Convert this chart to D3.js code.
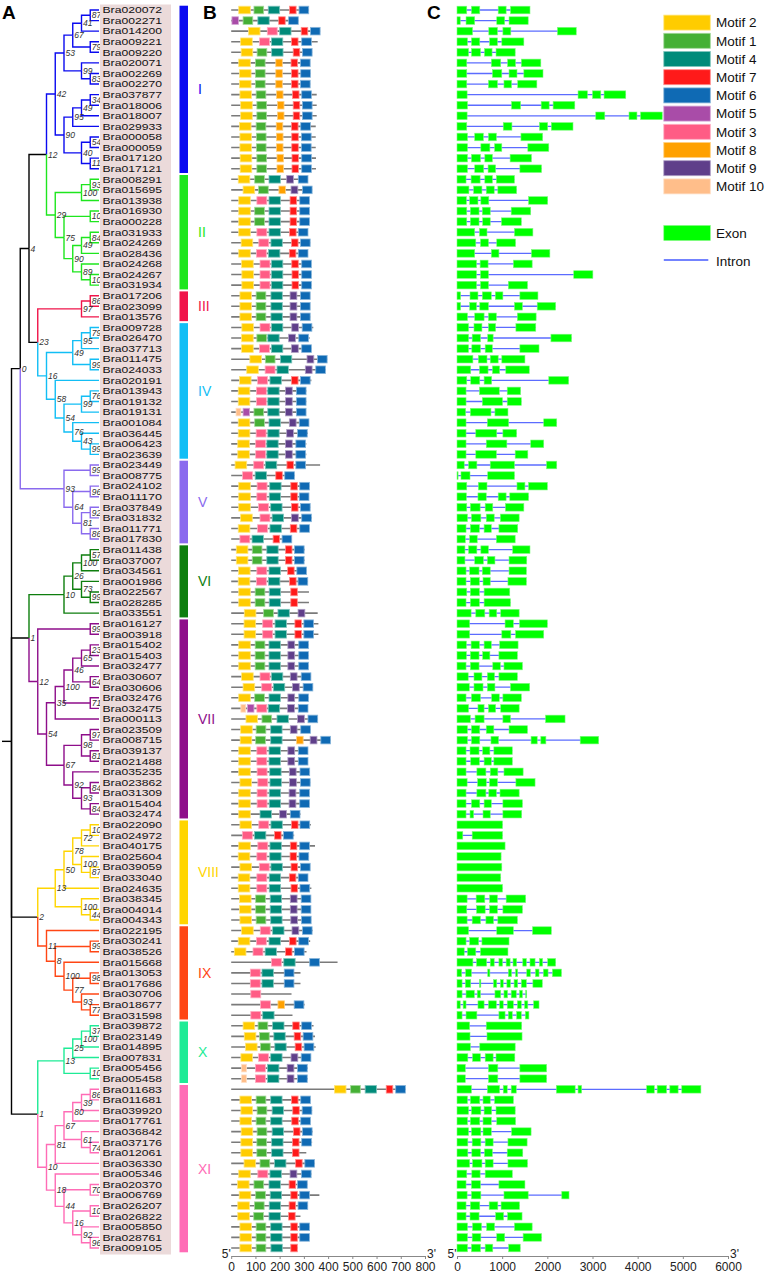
<!DOCTYPE html>
<html>
<head>
<meta charset="utf-8">
<script src="https://cdn.jsdelivr.net/npm/d3@7"></script>
<style>
  body { margin: 0; background: #fff; }
  text { font-family: "Liberation Sans", Arial, Helvetica, sans-serif; }
</style>
</head>
<body>
<div id="chart"></div>
<script>
// ---------------- data ----------------
const genes = [
  "Bra020072","Bra002271","Bra014200","Bra009221","Bra009220","Bra020071","Bra002269","Bra002270",
  "Bra037877","Bra018006","Bra018007","Bra029933","Bra000058","Bra000059","Bra017120","Bra017121",
  "Bra008291","Bra015695","Bra013938","Bra016930","Bra000228","Bra031933","Bra024269","Bra028436",
  "Bra024268","Bra024267","Bra031934",
  "Bra017206","Bra023099","Bra013576",
  "Bra009728","Bra026470","Bra037713","Bra011475","Bra024033","Bra020191","Bra013943","Bra019132",
  "Bra019131","Bra001084","Bra036445","Bra006423","Bra023639",
  "Bra023449","Bra008775","Bra024102","Bra011170","Bra037849","Bra031832","Bra011771","Bra017830",
  "Bra011438","Bra037007","Bra034561","Bra001986","Bra022567","Bra028285","Bra033551",
  "Bra016127","Bra003918","Bra015402","Bra015403","Bra032477","Bra030607","Bra030606","Bra032476",
  "Bra032475","Bra000113","Bra023509","Bra008715","Bra039137","Bra021488","Bra035235","Bra023862",
  "Bra031309","Bra015404","Bra032474",
  "Bra022090","Bra024972","Bra040175","Bra025604","Bra039059","Bra033040","Bra024635","Bra038345",
  "Bra004014","Bra004343",
  "Bra022195","Bra030241","Bra038526","Bra015668","Bra013053","Bra017686","Bra030706","Bra018677",
  "Bra031598",
  "Bra039872","Bra023149","Bra014895","Bra007831","Bra005456","Bra005458",
  "Bra011683","Bra011681","Bra039920","Bra017761","Bra036842","Bra037176","Bra012061","Bra036330",
  "Bra005346","Bra020370","Bra006769","Bra026207","Bra026822","Bra005850","Bra028761","Bra009105"
];

const groupNames = ["I","II","III","IV","V","VI","VII","VIII","IX","X","XI"];
const groupSizes = [16, 11, 3, 13, 8, 7, 19, 10, 9, 6, 16];
const groupColors = ["#0a0af0","#1ee61e","#f0144a","#12bef5","#8a6aee","#0e7e0e",
                     "#8e0e8a","#ffd500","#ff4614","#1eeb96","#ff6cb6"];

// Neighbour-joining tree with bootstrap support as node labels
const treeNewick =
  "(((((((((Bra020072,Bra002271)87,Bra014200)41,(Bra009221,Bra009220)79)67," +
  "(Bra020071,(Bra002269,Bra002270)83)99)53," +
  "((((Bra037877,Bra018006)34,Bra018007)49,Bra029933)95," +
  "((Bra000058,Bra000059)54,(Bra017120,Bra017121)11)40)90)42," +
  "(((Bra008291,Bra015695)93,Bra013938)100,((Bra016930,Bra000228)100," +
  "(((Bra031933,Bra024269)84,Bra028436)49,(Bra024268,(Bra024267,Bra031934)100)89)90)75)29)12," +
  "(((Bra017206,Bra023099)86,Bra013576)97," +
  "((((Bra009728,Bra026470)79,Bra037713)95,(Bra011475,Bra024033)99)49," +
  "(Bra020191,(((Bra013943,Bra019132)76,Bra019131)99," +
  "(Bra001084,(Bra036445,(Bra006423,Bra023639)99)43)76)54)58)16)23)4," +
  "((Bra023449,Bra008775)99,((Bra024102,Bra011170)96," +
  "((Bra037849,Bra031832)92,(Bra011771,Bra017830)86)81)64)93)0," +
  "(((((Bra011438,Bra037007)57,Bra034561)100,(Bra001986,(Bra022567,Bra028285)99)73)26,Bra033551)10," +
  "((Bra016127,Bra003918)99,((((((Bra015402,Bra015403)23,Bra032477)65,(Bra030607,Bra030606)64)46," +
  "(Bra032476,Bra032475)71)100,Bra000113)35,(((Bra023509,Bra008715)97,(Bra039137,Bra021488)81)98," +
  "(Bra035235,((Bra023862,Bra031309)84,(Bra015404,Bra032474)84)93)92)67)54)12)1," +
  "((((((Bra022090,Bra024972)100,Bra040175)72,(Bra025604,(Bra039059,Bra033040)87)100)78,Bra024635)50," +
  "(Bra038345,(Bra004014,Bra004343)44)100)13," +
  "(Bra022195,((Bra030241,Bra038526)99,(Bra015668,((Bra013053,Bra017686)98," +
  "(Bra030706,(Bra018677,Bra031598)77)93)77)100)8)11)2," +
  "(((((Bra039872,Bra023149)37,Bra014895)100,Bra007831)25,(Bra005456,Bra005458)100)13," +
  "((((((Bra011683,Bra011681)86,Bra039920)39,Bra017761)80,(Bra036842,(Bra037176,Bra012061)74)61)67,Bra036330)81," +
  "(Bra005346,((Bra020370,Bra006769)70,((Bra026207,Bra026822)100," +
  "(Bra005850,(Bra028761,Bra009105)96)92)16)44)18)10)1)0);";

// motifs, in legend order
const motifIds = [2, 1, 4, 7, 6, 5, 3, 8, 9, 10];
const motifColors = ["#ffcc00","#45b035","#008b7a","#ff1a1a","#0f6ab4",
                     "#a94ca8","#ff5c85","#ffa100","#5f3f8a","#ffbe8a"];
const motifWidths = [48, 40, 47, 27, 40, 27, 41, 27, 28, 20]; // aa, same order

const proteinLengths = [
  321,277,367,357,334,324,327,326,353,353,353,349,349,349,350,350,
  317,334,323,323,323,317,326,317,330,331,331,
  324,324,326,
  339,324,331,396,390,331,310,310,309,320,317,310,310,
  367,263,323,321,326,333,323,249,
  303,303,311,317,321,321,357,
  360,360,320,320,320,329,337,320,317,357,327,410,317,317,324,326,323,323,286,
  329,260,346,320,323,317,331,329,329,330,
  336,326,311,439,286,286,249,303,253,
  340,346,349,329,316,316,
  720,327,334,327,336,334,310,346,331,314,364,316,286,323,323,274
];

// [motif, start aa]
const motifSites = [
  [[2,31],[1,94],[4,153],[7,241],[6,280]],
  [[5,3],[1,49],[4,110],[7,196],[6,237]],
  [[2,71],[3,149],[4,200],[7,289],[6,327]],
  [[2,39],[3,117],[4,166],[7,249],[6,291]],
  [[2,41],[1,107],[4,167],[7,256],[6,294]],
  [[2,31],[1,100],[8,184],[7,247],[6,286]],
  [[2,34],[1,100],[8,184],[7,249],[6,287]],
  [[2,34],[1,100],[8,184],[7,249],[6,286]],
  [[2,36],[1,103],[8,187],[7,253],[6,291]],
  [[2,39],[1,106],[8,191],[7,256],[6,294]],
  [[2,39],[1,106],[8,191],[7,256],[6,294]],
  [[2,34],[1,103],[8,186],[7,249],[6,287]],
  [[2,36],[1,104],[8,187],[7,250],[6,290]],
  [[2,36],[1,104],[8,187],[7,250],[6,290]],
  [[2,37],[1,106],[8,189],[7,251],[6,291]],
  [[2,37],[1,106],[8,189],[7,251],[6,291]],
  [[2,29],[1,97],[4,156],[9,229],[6,277]],
  [[2,49],[1,113],[8,197],[9,247],[6,294]],
  [[2,31],[3,106],[4,156],[7,243],[6,283]],
  [[2,31],[1,97],[4,156],[7,243],[6,283]],
  [[2,31],[1,97],[4,156],[7,243],[6,283]],
  [[2,31],[3,106],[4,156],[7,241],[6,277]],
  [[2,41],[3,114],[4,164],[7,249],[6,286]],
  [[2,31],[3,104],[4,154],[7,240],[6,277]],
  [[2,43],[3,119],[4,166],[7,250],[6,291]],
  [[2,44],[3,119],[4,166],[7,251],[6,291]],
  [[2,44],[3,119],[4,166],[7,251],[6,291]],
  [[2,36],[1,103],[4,164],[9,243],[6,286]],
  [[2,36],[1,103],[4,164],[9,243],[6,286]],
  [[2,36],[1,103],[4,164],[9,243],[6,286]],
  [[2,44],[3,119],[4,166],[9,250],[6,293]],
  [[2,43],[1,106],[4,151],[9,237],[6,279]],
  [[2,43],[3,117],[4,166],[9,249],[6,291]],
  [[2,77],[1,141],[4,203],[9,313],[6,356]],
  [[2,64],[3,140],[4,189],[9,306],[6,349]],
  [[2,34],[3,109],[4,160],[7,249],[6,286]],
  [[2,29],[3,104],[4,151],[9,224],[6,269]],
  [[2,29],[3,104],[4,151],[9,224],[6,269]],
  [[10,20],[5,49],[1,94],[4,151],[9,224],[6,269]],
  [[2,29],[1,97],[4,156],[9,240],[6,281]],
  [[2,29],[3,103],[4,151],[9,229],[6,274]],
  [[2,27],[3,101],[4,147],[9,224],[6,267]],
  [[2,27],[3,101],[4,147],[9,224],[6,267]],
  [[2,16],[3,93],[4,141],[7,230],[6,267]],
  [[3,47],[4,99],[7,184],[6,221]],
  [[2,31],[3,107],[4,159],[7,246],[6,283]],
  [[2,31],[3,106],[4,157],[7,246],[6,281]],
  [[2,31],[3,113],[4,163],[7,249],[6,286]],
  [[2,39],[3,119],[4,169],[9,249],[6,291]],
  [[2,29],[3,109],[4,160],[7,244],[6,283]],
  [[3,36],[4,86],[7,173],[6,210]],
  [[2,21],[1,87],[4,147],[7,224],[6,261]],
  [[2,21],[1,87],[4,147],[7,224],[6,261]],
  [[2,30],[3,106],[4,156],[7,233],[6,271]],
  [[2,29],[3,104],[4,154],[7,241],[6,276]],
  [[2,31],[1,99],[4,157],[7,246]],
  [[2,31],[1,99],[4,157],[7,246]],
  [[2,54],[1,134],[4,193],[9,276]],
  [[2,53],[3,130],[4,181],[7,263],[6,300]],
  [[2,53],[3,130],[4,181],[7,263],[6,300]],
  [[2,31],[1,99],[4,156],[9,234],[6,279]],
  [[2,31],[1,99],[4,156],[9,234],[6,279]],
  [[2,31],[1,99],[4,156],[9,234],[6,279]],
  [[2,43],[3,119],[4,166],[9,244],[6,289]],
  [[2,49],[3,126],[4,174],[9,253],[6,297]],
  [[2,31],[1,97],[4,156],[9,234],[6,279]],
  [[10,40],[5,67],[3,106],[4,153],[9,233],[6,277]],
  [[2,61],[1,127],[4,189],[9,274],[6,317]],
  [[2,39],[1,103],[4,163],[9,244],[6,287]],
  [[2,37],[1,101],[4,163],[8,270],[9,326],[6,370]],
  [[2,31],[3,106],[4,156],[9,234],[6,277]],
  [[2,31],[3,106],[4,156],[9,234],[6,277]],
  [[2,31],[3,107],[4,159],[9,240],[6,284]],
  [[2,36],[3,110],[4,160],[9,241],[6,286]],
  [[2,31],[3,107],[4,157],[9,239],[6,283]],
  [[2,31],[3,107],[4,157],[9,239],[6,283]],
  [[2,31],[4,119],[9,200],[6,244]],
  [[2,36],[3,114],[4,164],[7,249],[6,284]],
  [[3,46],[4,96],[7,179],[6,216]],
  [[2,31],[3,110],[4,160],[7,244],[6,283]],
  [[2,29],[3,106],[4,159],[7,243],[6,280]],
  [[2,36],[3,116],[4,164],[7,247],[6,286]],
  [[2,29],[3,106],[4,157],[7,240],[6,277]],
  [[2,29],[3,106],[4,157],[7,247],[6,284]],
  [[2,34],[1,101],[4,161],[9,244],[6,289]],
  [[2,34],[1,101],[4,161],[9,244],[6,289]],
  [[2,36],[1,103],[4,163],[9,246],[6,290]],
  [[2,43],[3,120],[4,171],[9,251],[6,294]],
  [[2,29],[3,104],[4,156],[7,241],[6,279]],
  [[2,13],[3,90],[4,140],[7,224],[6,261]],
  [[3,166],[4,217],[6,324]],
  [[3,79],[4,127],[6,219]],
  [[3,79],[4,127],[6,219]],
  [[3,81]],
  [[3,121],[8,193],[6,260]],
  [[3,81],[4,130]],
  [[2,49],[1,111],[4,171],[7,254],[6,291]],
  [[2,54],[1,117],[4,176],[7,260],[6,297]],
  [[2,59],[1,121],[4,180],[7,264],[6,301]],
  [[2,40],[3,113],[4,163],[9,247],[6,289]],
  [[10,43],[3,100],[4,150],[9,231],[6,274]],
  [[10,43],[3,100],[4,150],[9,231],[6,274]],
  [[2,426],[1,493],[4,553],[7,640],[6,679]],
  [[2,36],[1,103],[4,163],[7,249],[6,287]],
  [[2,40],[1,107],[4,169],[7,254],[6,293]],
  [[2,36],[1,103],[4,163],[7,250],[6,287]],
  [[2,41],[1,107],[4,169],[7,257],[6,294]],
  [[2,40],[1,106],[4,167],[7,253],[6,291]],
  [[2,40],[1,106],[4,167],[7,253]],
  [[2,53],[1,119],[4,179],[7,266],[6,304]],
  [[2,31],[3,110],[4,160],[9,243],[6,290]],
  [[2,26],[1,94],[4,156],[7,239],[6,274]],
  [[2,33],[1,101],[4,161],[7,246],[6,283]],
  [[2,27],[1,96],[4,157],[7,239],[6,276]],
  [[2,27],[1,93],[4,156],[7,237]],
  [[2,36],[1,103],[4,163],[7,246],[6,283]],
  [[2,36],[1,103],[4,163],[7,246],[6,283]],
  [[2,36],[1,103],[4,164],[7,246]]
];

// exon [start, end] in bp
const exons = [
  [[0,216],[320,504],[912,1088],[1184,1616]],
  [[0,72],[200,392],[880,1056],[1152,1576]],
  [[0,344],[704,896],[1016,1192],[2224,2640]],
  [[0,232],[320,504],[720,896],[992,1480]],
  [[0,256],[320,520],[608,776],[864,1288]],
  [[0,216],[760,968],[1120,1296],[1424,1856]],
  [[0,216],[784,992],[1152,1328],[1480,1904]],
  [[0,216],[696,896],[1040,1208],[1344,1768]],
  [[0,224],[2680,2888],[3000,3184],[3256,3736]],
  [[0,232],[1208,1408],[1864,2040],[2128,2608]],
  [[0,224],[3072,3272],[3808,3984],[4064,4544]],
  [[0,216],[1024,1216],[1824,2008],[2088,2568]],
  [[0,232],[392,584],[696,872],[1416,1896]],
  [[0,232],[528,728],[832,992],[1568,2032]],
  [[0,232],[320,520],[616,784],[1176,1648]],
  [[0,232],[392,592],[688,856],[1392,1872]],
  [[0,200],[312,512],[616,784],[872,1272]],
  [[0,264],[368,552],[648,824],[904,1320]],
  [[0,208],[280,464],[528,704],[1584,2008]],
  [[0,216],[296,488],[560,736],[1200,1632]],
  [[0,216],[296,488],[568,736],[984,1424]],
  [[0,392],[496,664],[1272,1680]],
  [[0,416],[520,696],[880,1296]],
  [[0,392],[760,928],[1648,2056]],
  [[0,432],[512,688],[1248,1664]],
  [[0,432],[520,696],[2584,3008]],
  [[0,432],[520,696],[1136,1560]],
  [[0,80],[288,464],[560,760],[848,1016],[1392,1792]],
  [[0,80],[280,432],[504,696],[1272,1448],[1776,2184]],
  [[0,232],[392,600],[696,872],[1336,1752]],
  [[0,256],[376,552],[696,856],[1304,1744]],
  [[0,256],[336,520],[680,800],[2080,2536]],
  [[0,256],[328,520],[624,784],[1392,1816]],
  [[0,352],[472,664],[736,912],[992,1504]],
  [[0,304],[496,688],[784,944],[1080,1600]],
  [[0,216],[304,504],[600,768],[2032,2472]],
  [[0,200],[496,936],[1112,1408]],
  [[0,200],[560,1008],[1112,1424]],
  [[0,192],[296,752],[840,1128]],
  [[0,200],[672,1144],[1920,2208]],
  [[0,200],[416,880],[1016,1320]],
  [[0,200],[648,1104],[1632,1920]],
  [[0,200],[416,872],[1288,1568]],
  [[0,160],[256,440],[736,1272],[1984,2208]],
  [[0,24],[88,288],[680,1272]],
  [[0,216],[472,664],[1328,1504],[1584,2000]],
  [[0,208],[464,648],[912,1088],[1168,1584]],
  [[0,216],[296,512],[624,792],[1072,1480]],
  [[0,232],[320,528],[648,824],[960,1376]],
  [[0,200],[296,496],[600,760],[928,1344]],
  [[0,184],[280,448],[872,1288]],
  [[0,176],[256,440],[528,696],[1232,1616]],
  [[0,176],[392,584],[672,840],[1152,1544]],
  [[0,200],[280,488],[560,736],[1152,1536]],
  [[0,200],[296,496],[576,736],[1128,1536]],
  [[0,216],[296,496],[600,1168]],
  [[0,200],[296,496],[600,1184]],
  [[0,312],[416,616],[712,880],[968,1376]],
  [[0,280],[1064,1248],[1384,2000]],
  [[0,280],[992,1192],[1296,1920]],
  [[0,208],[312,496],[600,760],[944,1352]],
  [[0,208],[296,488],[568,728],[928,1336]],
  [[0,200],[296,488],[792,960],[1040,1448]],
  [[0,248],[376,552],[672,832],[928,1336]],
  [[0,272],[376,576],[672,840],[1184,1608]],
  [[0,200],[320,520],[768,936],[1016,1424]],
  [[0,256],[464,600],[696,856],[968,1376]],
  [[0,296],[400,600],[1016,1184],[1960,2392]],
  [[0,232],[320,504],[648,816],[1152,1560]],
  [[0,232],[320,504],[752,920],[1640,1776],[1856,1968],[2728,3136]],
  [[0,200],[288,488],[568,728],[816,1224]],
  [[0,200],[304,496],[600,760],[816,1224]],
  [[0,200],[440,640],[736,904],[1040,1464]],
  [[0,224],[456,648],[720,896],[1304,1728]],
  [[0,200],[440,640],[704,872],[952,1376]],
  [[0,200],[320,504],[600,760],[1016,1448]],
  [[0,200],[288,368],[576,736],[1016,1432]],
  [[0,1008]],
  [[0,128],[336,1008]],
  [[0,1064]],
  [[0,976]],
  [[0,992]],
  [[0,968]],
  [[0,1008]],
  [[0,224],[424,616],[720,896],[1088,1520]],
  [[0,216],[432,624],[720,896],[1016,1448]],
  [[0,224],[336,520],[640,808],[904,1336]],
  [[0,256],[880,1248],[1672,2088]],
  [[0,200],[280,480],[552,1152]],
  [[0,160],[232,416],[520,1128]],
  [[0,352],[432,656],[736,824],[928,1008],[1088,1176],[1240,1320],[1456,1536],[1616,1728],[1824,1896],[2008,2184]],
  [[0,104],[192,320],[680,728],[1136,1208],[1296,1344],[1544,1624],[1736,1816],[1912,2016],[2112,2312]],
  [[0,112],[184,304],[496,528],[808,880],[960,1024],[1104,1184],[1264,1344],[1424,1536],[1680,1888]],
  [[0,112],[200,384],[448,520],[840,968],[1040,1120],[1200,1312],[1384,1448],[1520,1544]],
  [[0,72],[136,200],[464,600],[696,872],[944,1024],[1112,1248],[1336,1424],[1496,1568],[1696,1816]],
  [[0,112],[200,440],[928,1064],[1136,1224],[1320,1424],[1512,1592]],
  [[0,280],[648,1432]],
  [[0,288],[664,1440]],
  [[0,296],[504,1288]],
  [[0,240],[344,520],[624,800],[864,1280]],
  [[0,184],[696,904],[1392,1984]],
  [[0,184],[696,904],[1392,1984]],
  [[0,320],[672,944],[1024,1112],[1200,1312],[2200,2616],[2680,2760],[4200,4368],[4432,4640],[4712,4896],[4976,5400]],
  [[0,232],[296,504],[576,736],[832,1248]],
  [[0,256],[320,528],[600,768],[864,1288]],
  [[0,232],[296,504],[576,760],[880,1296]],
  [[0,256],[320,528],[576,760],[1208,1640]],
  [[0,240],[336,528],[624,800],[1128,1552]],
  [[0,240],[328,520],[608,784],[1112,1456]],
  [[0,280],[344,552],[624,800],[1128,1560]],
  [[0,216],[328,512],[624,1224]],
  [[0,200],[320,520],[928,1504]],
  [[0,224],[320,528],[1040,1576],[2320,2480]],
  [[0,200],[296,504],[712,904],[976,1384]],
  [[0,200],[288,488],[856,1032],[1120,1440]],
  [[0,232],[344,544],[656,832],[1272,1664]],
  [[0,232],[336,528],[880,1056],[1464,1872]],
  [[0,232],[320,520],[624,792],[1144,1400]]
];

const motifTicks = [0, 100, 200, 300, 400, 500, 600, 700, 800];
const structureTicks = [0, 1000, 2000, 3000, 4000, 5000, 6000];

// ---------------- layout ----------------
const width = 768, height = 1277;
const leafX = 99;       // x where leaves end
const levelStep = 8.75; // x per tree level
const boxH = 7.6;

const svg = d3.select("#chart").append("svg")
  .attr("width", width)
  .attr("height", height);

const rowY = d3.scalePoint().domain(genes).range([10, 1248]);
const rowStep = rowY.step();

// group of every gene
const groupOf = {};
let k = 0;
groupSizes.forEach((n, g) => {
  for (let i = 0; i < n; i++) groupOf[genes[k++]] = g;
});

/*
Minimal Newick reader: returns {name, children}.
*/
function parseNewick(s) {
  let i = 0;
  function node() {
    let n = {};
    if (s[i] === "(") {
      i++;
      n.children = [node()];
      while (s[i] === ",") {
        i++;
        n.children.push(node());
      }
      i++; // closing bracket
    }
    let j = i;
    while (i < s.length && !",();".includes(s[i])) i++;
    n.name = s.slice(j, i);
    return n;
  }
  return node();
}

// ---------------- panel A: tree ----------------
const root = d3.hierarchy(parseNewick(treeNewick));
root.eachAfter(n => {
  n.px = leafX - n.height * levelStep;
  if (n.children) {
    n.py = (n.children[0].py + n.children[n.children.length - 1].py) / 2;
    const gs = new Set(n.children.map(c => c.group));
    n.group = gs.size === 1 ? [...gs][0] : -1;
  } else {
    n.py = rowY(n.data.name);
    n.group = groupOf[n.data.name];
  }
});
const branchColor = n => (n.group >= 0 ? groupColors[n.group] : "#000");

const treeG = svg.append("g").attr("fill", "none").attr("stroke-width", 1.4);

let edges = root.descendants().filter(d => d.parent);
edges.sort((a, b) => (a.group >= 0) - (b.group >= 0)); // black first

treeG.selectAll("path.branch")
  .data(edges)
  .enter()
  .append("path")
  .attr("class", "branch")
  .attr("stroke", branchColor)
  .attr("d", d => `M${d.parent.px},${d.parent.py}V${d.py}H${d.px}`);

// root stem
treeG.append("path")
  .attr("stroke", "#000")
  .attr("d", `M2,${root.py}H${root.px}`);

// bootstrap values, cut off where the name column starts
svg.append("clipPath").attr("id", "treeClip")
  .append("rect").attr("x", 0).attr("y", 0).attr("width", 100).attr("height", height);

svg.append("g")
  .attr("clip-path", "url(#treeClip)")
  .selectAll("text.boot")
  .data(root.descendants().filter(d => d.children && d.parent))
  .enter()
  .append("text")
  .attr("class", "boot")
  .attr("x", d => d.px + 1.6)
  .attr("y", d => d.py)
  .attr("dy", "0.36em")
  .attr("font-size", "8.5px")
  .attr("font-style", "italic")
  .attr("fill", "#333")
  .text(d => d.data.name);

// label background
svg.append("rect")
  .attr("x", 100).attr("y", 4.5)
  .attr("width", 71).attr("height", 1250)
  .attr("fill", "#ebdada");

// gene names
svg.selectAll("text.gene")
  .data(genes)
  .enter()
  .append("text")
  .attr("class", "gene")
  .attr("x", 102.5)
  .attr("y", d => rowY(d))
  .attr("dy", "0.36em")
  .attr("font-size", "9.2px")
  .attr("fill", "#111")
  .attr("textLength", 59.5)
  .attr("lengthAdjust", "spacingAndGlyphs")
  .text(d => d);

// group bars and numerals
let start = 0;
const groupSpans = groupSizes.map((n, g) => {
  const span = { g: g, first: genes[start], last: genes[start + n - 1] };
  start += n;
  return span;
});

svg.selectAll("rect.groupbar")
  .data(groupSpans)
  .enter()
  .append("rect")
  .attr("class", "groupbar")
  .attr("x", 179.5)
  .attr("width", 8.5)
  .attr("y", d => rowY(d.first) - rowStep / 2 + 1)
  .attr("height", d => rowY(d.last) - rowY(d.first) + rowStep - 2)
  .attr("fill", d => groupColors[d.g]);

svg.selectAll("text.groupname")
  .data(groupSpans)
  .enter()
  .append("text")
  .attr("class", "groupname")
  .attr("x", 198)
  .attr("y", d => (rowY(d.first) + rowY(d.last)) / 2)
  .attr("dy", "0.36em")
  .attr("font-size", "14px")
  .attr("fill", d => groupColors[d.g])
  .text(d => groupNames[d.g]);

// ---------------- panel B: motifs ----------------
const xB = d3.scaleLinear().domain([0, 800]).range([231.2, 425]);
const motifColor = d3.scaleOrdinal().domain(motifIds).range(motifColors);
const motifWidth = d3.scaleOrdinal().domain(motifIds).range(motifWidths);

const motifG = svg.append("g");
motifG.selectAll("line.protein")
  .data(genes)
  .enter()
  .append("line")
  .attr("class", "protein")
  .attr("x1", xB(0))
  .attr("x2", (d, i) => xB(proteinLengths[i]))
  .attr("y1", d => rowY(d))
  .attr("y2", d => rowY(d))
  .attr("stroke", "#7a7a7a")
  .attr("stroke-width", 1.6);

const motifBoxes = [];
genes.forEach((g, i) => {
  motifSites[i].forEach(([m, s]) => motifBoxes.push({ gene: g, motif: m, start: s }));
});

motifG.selectAll("rect.motif")
  .data(motifBoxes)
  .enter()
  .append("rect")
  .attr("class", "motif")
  .attr("x", d => xB(d.start))
  .attr("width", d => xB(d.start + motifWidth(d.motif)) - xB(d.start))
  .attr("y", d => rowY(d.gene) - boxH / 2)
  .attr("height", boxH)
  .attr("fill", d => motifColor(d.motif))
  .attr("stroke", d => d3.interpolateRgb(motifColor(d.motif), "#fff")(0.5))
  .attr("stroke-width", 0.8);

// ---------------- panel C: gene structure ----------------
const xC = d3.scaleLinear().domain([0, 6000]).range([457, 728]);

const geneG = svg.append("g");
geneG.selectAll("line.intron")
  .data(genes)
  .enter()
  .append("line")
  .attr("class", "intron")
  .attr("x1", (d, i) => xC(exons[i][0][0]))
  .attr("x2", (d, i) => xC(exons[i][exons[i].length - 1][1]))
  .attr("y1", d => rowY(d))
  .attr("y2", d => rowY(d))
  .attr("stroke", "#5b6cff")
  .attr("stroke-width", 1.3);

const exonBoxes = [];
genes.forEach((g, i) => {
  exons[i].forEach(([a, b]) => exonBoxes.push({ gene: g, a: a, b: b }));
});

geneG.selectAll("rect.exon")
  .data(exonBoxes)
  .enter()
  .append("rect")
  .attr("class", "exon")
  .attr("x", d => xC(d.a))
  .attr("width", d => Math.max(1, xC(d.b) - xC(d.a)))
  .attr("y", d => rowY(d.gene) - boxH / 2)
  .attr("height", boxH)
  .attr("fill", "#00ff00")
  .attr("stroke", "#7dfa7d")
  .attr("stroke-width", 0.6);

// ---------------- axes ----------------
const axisY = 1256;
function styleAxis(g) {
  g.select(".domain").attr("stroke", "#888");
  g.selectAll(".tick line").attr("stroke", "#888");
  g.selectAll(".tick text")
    .attr("font-size", "12px")
    .attr("fill", "#222")
    .attr("font-family", "Liberation Sans, Arial, sans-serif");
}

svg.append("g")
  .attr("transform", `translate(0,${axisY})`)
  .call(d3.axisBottom(xB).tickValues(motifTicks).tickFormat(d3.format("d"))
    .tickSize(3).tickSizeOuter(0))
  .call(styleAxis);

svg.append("g")
  .attr("transform", `translate(0,${axisY})`)
  .call(d3.axisBottom(xC).tickValues(structureTicks).tickFormat(d3.format("d"))
    .tickSize(3).tickSizeOuter(0))
  .call(styleAxis);

const endLabels = [
  { t: "5'", x: xB(0) - 0.5, a: "end" },
  { t: "3'", x: xB(800) + 2, a: "start" },
  { t: "5'", x: xC(0) - 0.5, a: "end" },
  { t: "3'", x: xC(6000) + 2, a: "start" }
];
svg.selectAll("text.end")
  .data(endLabels)
  .enter()
  .append("text")
  .attr("class", "end")
  .attr("x", d => d.x)
  .attr("y", axisY + 1.5)
  .attr("text-anchor", d => d.a)
  .attr("font-size", "12px")
  .attr("fill", "#222")
  .text(d => d.t);

// ---------------- legend ----------------
const legendX = 663.8, legendW = 46.5, legendH = 15, legendStep = 18.2;
const legend = svg.append("g");
legend.selectAll("rect.key")
  .data(motifIds)
  .enter()
  .append("rect")
  .attr("class", "key")
  .attr("x", legendX)
  .attr("y", (d, i) => 22.6 + i * legendStep - legendH / 2)
  .attr("width", legendW)
  .attr("height", legendH)
  .attr("fill", d => motifColor(d))
  .attr("stroke", d => d3.interpolateRgb(motifColor(d), "#fff")(0.5))
  .attr("stroke-width", 0.8);

legend.selectAll("text.key")
  .data(motifIds)
  .enter()
  .append("text")
  .attr("class", "key")
  .attr("x", 716)
  .attr("y", (d, i) => 22.6 + i * legendStep)
  .attr("dy", "0.36em")
  .attr("font-size", "13.5px")
  .attr("fill", "#111")
  .text(d => "Motif " + d);

legend.append("rect")
  .attr("x", legendX).attr("y", 233 - legendH / 2)
  .attr("width", legendW).attr("height", legendH)
  .attr("fill", "#00ff00").attr("stroke", "#7dfa7d").attr("stroke-width", 0.6);
legend.append("text")
  .attr("x", 716).attr("y", 233).attr("dy", "0.36em")
  .attr("font-size", "13.5px").attr("fill", "#111").text("Exon");
legend.append("line")
  .attr("x1", legendX).attr("x2", legendX + 44.5)
  .attr("y1", 260).attr("y2", 260)
  .attr("stroke", "#7383ff").attr("stroke-width", 2);
legend.append("text")
  .attr("x", 716).attr("y", 261).attr("dy", "0.36em")
  .attr("font-size", "13.5px").attr("fill", "#111").text("Intron");

// ---------------- panel letters ----------------
svg.selectAll("text.panel")
  .data([{ t: "A", x: 2 }, { t: "B", x: 203 }, { t: "C", x: 427 }])
  .enter()
  .append("text")
  .attr("class", "panel")
  .attr("x", d => d.x)
  .attr("y", 19)
  .attr("font-size", "19px")
  .attr("font-weight", "bold")
  .attr("fill", "#000")
  .text(d => d.t);
</script>
</body>
</html>
